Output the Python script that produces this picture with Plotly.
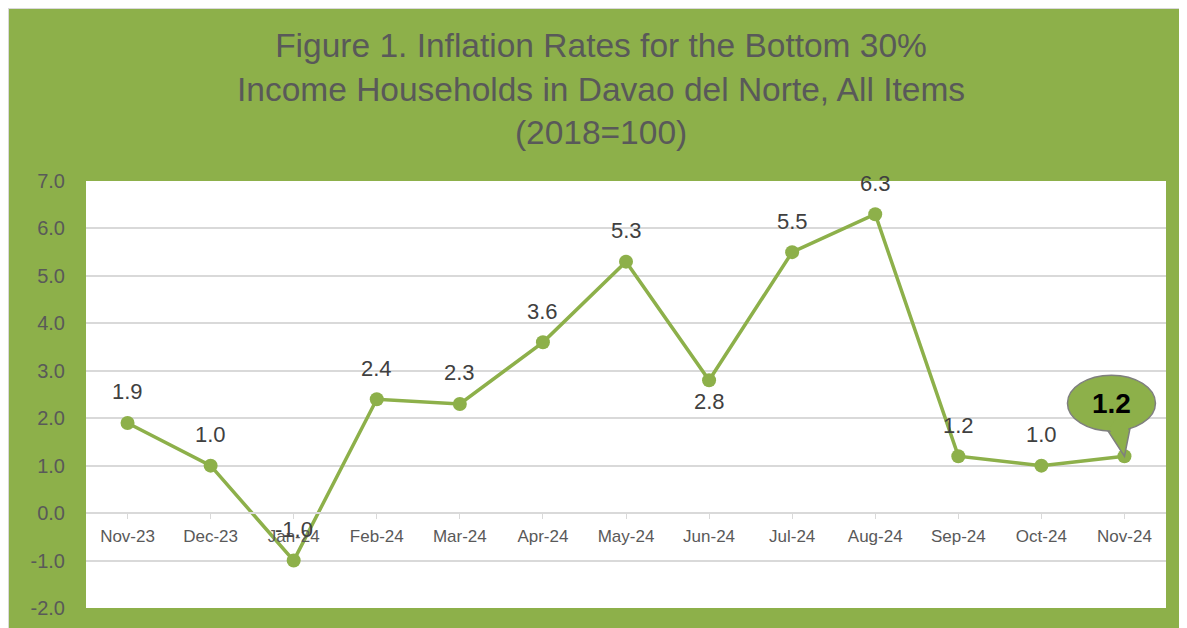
import plotly.graph_objects as go

months = ["Nov-23", "Dec-23", "Jan-24", "Feb-24", "Mar-24", "Apr-24", "May-24",
          "Jun-24", "Jul-24", "Aug-24", "Sep-24", "Oct-24", "Nov-24"]
rates = [1.9, 1.0, -1.0, 2.4, 2.3, 3.6, 5.3, 2.8, 5.5, 6.3, 1.2, 1.0, 1.2]
y_ticks = [-2, -1, 0, 1, 2, 3, 4, 5, 6, 7]
y_ticktext = [f"{v:.1f}" for v in y_ticks]
label_below = [False] * 13
label_below[7] = True  # Jun-24 label sits under its point

GREEN = "#8DB04A"
GRID = "#D9D9D9"
TXT = "#595959"
FONT = "Liberation Sans, Arial"

fig = go.Figure()
fig.add_trace(go.Scatter(
    x=list(range(len(months))), y=rates, mode="lines+markers",
    line=dict(color=GREEN, width=3.5),
    marker=dict(color=GREEN, size=14),
    cliponaxis=False, hoverinfo="skip", showlegend=False,
))

ymin, ymax = -2, 7
fig.update_layout(
    width=1187, height=628,
    margin=dict(l=78, r=29, t=173, b=28),
    paper_bgcolor=GREEN, plot_bgcolor="white",
    font=dict(family=FONT, color=TXT),
    xaxis=dict(range=[-0.5, 12.5], tickmode="array", tickvals=list(range(13)), ticktext=months,
               anchor="free", position=(0 - ymin) / (ymax - ymin),
               showline=True, linecolor=GRID, linewidth=1.5,
               ticks="outside", tickson="boundaries", ticklen=5, tickcolor=GRID,
               ticklabelstandoff=3,
               showgrid=False, zeroline=False,
               tickfont=dict(size=17, color=TXT), fixedrange=True),
    yaxis=dict(range=[ymin, ymax], tickmode="array", tickvals=y_ticks, ticktext=y_ticktext,
               showgrid=True, gridcolor=GRID, gridwidth=1.5, zeroline=False,
               ticklabelstandoff=20, ticks="",
               tickfont=dict(size=20, color=TXT), fixedrange=True),
)

# data labels (last one is shown in the callout)
for i, (m, v) in enumerate(zip(months, rates)):
    if i == len(rates) - 1:
        continue
    fig.add_annotation(x=i, y=v, xref="x", yref="y", text=f"{v:.1f}", showarrow=False,
                       xanchor="center", yanchor="middle",
                       yshift=-21 if label_below[i] else 31,
                       font=dict(family=FONT, size=22, color="#404040"))

# title
fig.add_annotation(xref="paper", yref="paper", x=0.477, y=1.2143, xanchor="center", yanchor="middle",
                   text="Figure 1. Inflation Rates for the Bottom 30%<br>Income Households in Davao del Norte, All Items<br>(2018=100)",
                   showarrow=False, align="center",
                   font=dict(family=FONT, size=33.5, color=TXT))

# light border around the figure
fig.add_shape(type="rect", xref="paper", yref="paper", layer="below",
              x0=-78 / 1080, x1=1 + 29 / 1080, y0=-28 / 427, y1=1 + 173 / 427,
              fillcolor="rgba(0,0,0,0)", line=dict(color=GRID, width=2))

# callout bubble for the latest value
lx, ly = len(months) - 1, rates[-1]
fig.add_shape(type="path", xref="x", yref="y", xsizemode="pixel", ysizemode="pixel",
              xanchor=lx, yanchor=ly, path="M -17,26 L 0,0 L 6,30 Z", fillcolor=GREEN,
              line=dict(color="#7F7F7F", width=1.5), layer="above")
fig.add_shape(type="circle", xref="x", yref="y", xsizemode="pixel", ysizemode="pixel",
              xanchor=lx, yanchor=ly, x0=-57, x1=31, y0=25, y1=81, fillcolor=GREEN,
              line=dict(color="#7F7F7F", width=1.5), layer="above")
fig.add_shape(type="path", xref="x", yref="y", xsizemode="pixel", ysizemode="pixel",
              xanchor=lx, yanchor=ly, path="M -15,27 L -1,3 L 4.5,31 L 0,38 L -10,36 Z", fillcolor=GREEN,
              line=dict(width=0), layer="above")
fig.add_annotation(x=lx, y=ly, xref="x", yref="y", text=f"<b>{rates[-1]:.1f}</b>",
                   showarrow=False, xshift=-13, yshift=53,
                   font=dict(family=FONT, size=28, color="black"))

fig.write_html("out.html")
